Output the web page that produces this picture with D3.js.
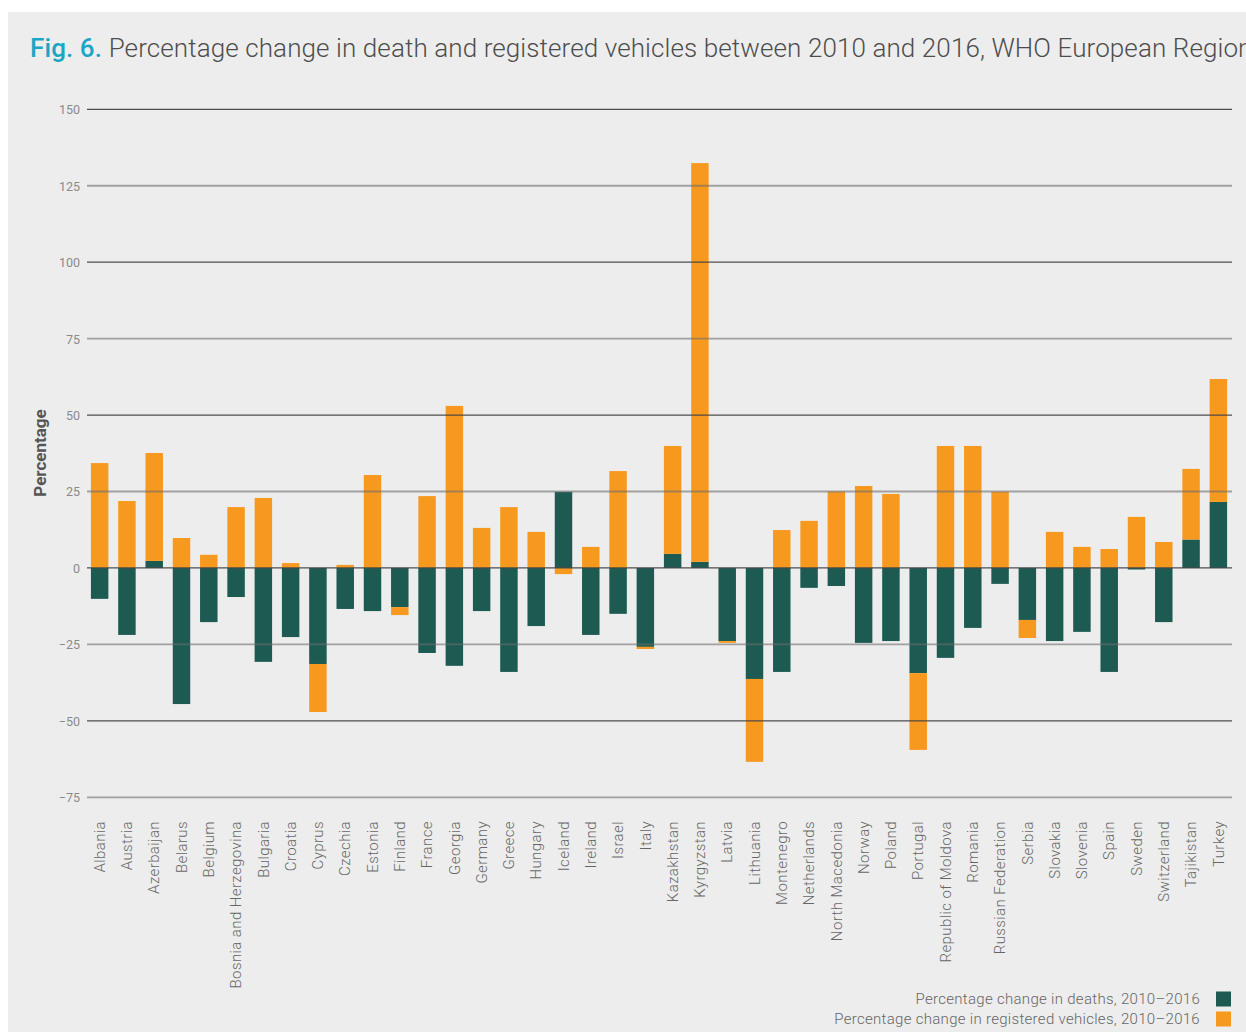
<!DOCTYPE html>
<html><head><meta charset="utf-8">
<script src="https://cdn.jsdelivr.net/npm/d3@7"></script>
<style>
html,body{margin:0;padding:0;background:#fff;}
svg{display:block;}
text{font-family:Roboto,"Noto Sans",sans-serif;}
</style></head>
<body>
<svg id="chart" width="1246" height="1032"></svg>
<script>
const countries = ["Albania","Austria","Azerbaijan","Belarus","Belgium","Bosnia and Herzegovina","Bulgaria","Croatia","Cyprus","Czechia","Estonia","Finland","France","Georgia","Germany","Greece","Hungary","Iceland","Ireland","Israel","Italy","Kazakhstan","Kyrgyzstan","Latvia","Lithuania","Montenegro","Netherlands","North Macedonia","Norway","Poland","Portugal","Republic of Moldova","Romania","Russian Federation","Serbia","Slovakia","Slovenia","Spain","Sweden","Switzerland","Tajikistan","Turkey"];
const deaths = [-10.1,-21.9,2.3,-44.5,-17.7,-9.5,-30.7,-22.6,-31.4,-13.4,-14.1,-12.8,-27.8,-32.0,-14.1,-34.0,-19.0,24.9,-21.9,-15.0,-25.8,4.6,2.0,-23.9,-36.3,-34.0,-6.5,-5.9,-24.5,-23.9,-34.4,-29.4,-19.6,-5.2,-17.0,-23.9,-20.9,-34.0,-0.5,-17.7,9.3,21.6];
const vehicles = [34.3,21.9,35.3,9.8,4.3,19.9,22.9,1.6,-15.7,1.0,30.4,-2.6,23.5,53.0,13.1,19.9,11.8,-2.0,6.9,31.7,-0.7,35.3,130.4,-0.6,-27.1,12.4,15.4,25.0,26.8,24.2,-25.1,39.9,39.9,24.9,-5.9,11.8,6.9,6.2,16.7,8.5,23.1,40.2];
const yTicks = [-75,-50,-25,0,25,50,75,100,125,150];
const seriesNames = ["Percentage change in deaths, 2010\u20132016","Percentage change in registered vehicles, 2010\u20132016"];
const seriesColors = ["#1c5a52","#f8991f"];

const svg = d3.select("#chart");
svg.append("rect").attr("x",8).attr("y",12).attr("width",1238).attr("height",1020).attr("fill","#ededed");

// title
const title = svg.append("text").attr("x",30).attr("y",57).attr("font-size",26).attr("letter-spacing",0.1);
title.append("tspan").text("Fig. 6. ").attr("fill","#1aa6c4").attr("font-weight",500);
title.append("tspan").text("Percentage change in death and registered vehicles between 2010 and 2016, WHO European Region").attr("fill","#4d4d4d").attr("font-weight",300);

const table = countries.map((c,i)=>({country:c, deaths:deaths[i], vehicles:vehicles[i]}));
const stack = d3.stack().keys(["deaths","vehicles"]).offset(d3.stackOffsetDiverging)(table);

const x = d3.scaleBand().domain(countries).range([86,1232]).paddingInner(0.36).paddingOuter(0.18);
const y = d3.scaleLinear().domain([-75,150]).range([797.3,109.3]);

// bars
const g = svg.append("g");
stack.forEach((s,k)=>{
  g.append("g").attr("fill",seriesColors[k]).selectAll("rect").data(s).join("rect")
    .attr("x",d=>x(d.data.country))
    .attr("width",x.bandwidth())
    .attr("y",d=>y(Math.max(d[0],d[1])))
    .attr("height",d=>Math.abs(y(d[0])-y(d[1])));
});

// gridlines
const grid = svg.append("g");
yTicks.forEach(t=>{
  const dark = (t % 50 === 0);
  grid.append("line").attr("x1",87).attr("x2",1232).attr("y1",y(t)).attr("y2",y(t))
    .attr("stroke", dark ? "rgba(70,70,70,0.95)" : "rgba(110,110,110,0.6)")
    .attr("stroke-width", dark ? 1.2 : 1.8);
});

// y axis labels
const yAxis = d3.axisLeft(y).tickValues(yTicks).tickSize(0).tickPadding(0);
const ya = svg.append("g").attr("transform","translate(80,0)").call(yAxis);
ya.select(".domain").remove();
ya.selectAll("text").attr("font-size",12.5).attr("fill","#8a8a8a").attr("font-family","Roboto,sans-serif").attr("dy","0.35em");

svg.append("text").attr("transform","translate(46,453) rotate(-90)").attr("text-anchor","middle")
  .attr("font-size",17).attr("font-weight",700).attr("fill","#555").text("Percentage");

// x axis labels
const xAxis = d3.axisBottom(x).tickSize(0).tickPadding(0);
const xa = svg.append("g").attr("transform","translate(0,821)").call(xAxis);
xa.select(".domain").remove();
xa.selectAll("text").attr("font-size",15).attr("letter-spacing",0.4).attr("fill","#666").attr("font-weight",300)
  .attr("font-family","Roboto,sans-serif")
  .attr("text-anchor","end")
  .attr("transform","rotate(-90)").attr("x",0).attr("y",0).attr("dx",0).attr("dy","0.35em");

// legend
seriesNames.forEach((n,i)=>{
  const yy = 999 + i*20;
  svg.append("text").attr("x",1200).attr("y",yy).attr("dy","0.35em").attr("text-anchor","end")
    .attr("font-size",15).attr("letter-spacing",0.3).attr("font-weight",300).attr("fill","#666").text(n);
  svg.append("rect").attr("x",1216).attr("y",yy-7.5).attr("width",15).attr("height",15).attr("fill",seriesColors[i]);
});
</script>
</body></html>
